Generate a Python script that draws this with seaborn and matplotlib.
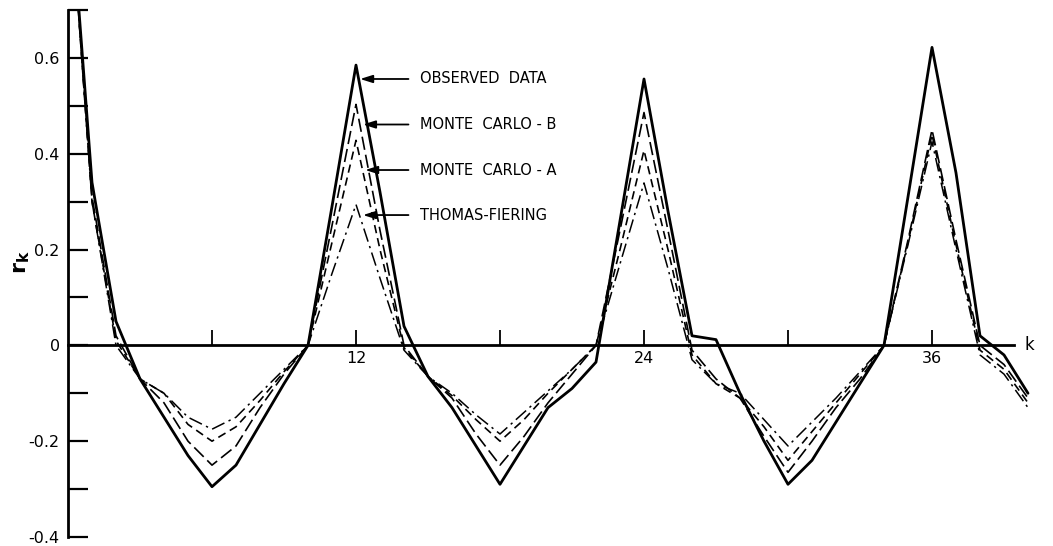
import matplotlib
matplotlib.use("Agg")
import matplotlib.pyplot as plt
import pandas as pd
import seaborn as sns

# Autocorrelation r_k of monthly flows against lag k
lags = list(range(0, 41))

observed = [1.0, 0.34, 0.05, -0.07, -0.15, -0.23, -0.295, -0.25, -0.165, -0.08,
            0.0, 0.29, 0.585, 0.32, 0.04, -0.065, -0.13, -0.21, -0.29, -0.21,
            -0.13, -0.09, -0.035, 0.26, 0.556, 0.28, 0.02, 0.012, -0.10, -0.20,
            -0.29, -0.24, -0.16, -0.08, 0.0, 0.31, 0.622, 0.36, 0.02, -0.02, -0.10]

monte_carlo_b = [1.0, 0.31, 0.02, -0.07, -0.12, -0.20, -0.25, -0.21, -0.13, -0.06,
                 0.0, 0.25, 0.503, 0.24, 0.0, -0.065, -0.11, -0.185, -0.25, -0.19,
                 -0.12, -0.06, 0.0, 0.24, 0.486, 0.24, -0.01, -0.07, -0.11, -0.19,
                 -0.265, -0.20, -0.13, -0.07, 0.0, 0.22, 0.45, 0.22, 0.0, -0.04, -0.11]

monte_carlo_a = [1.0, 0.30, 0.01, -0.07, -0.10, -0.165, -0.20, -0.17, -0.115, -0.055,
                 0.0, 0.215, 0.428, 0.20, -0.005, -0.065, -0.105, -0.155, -0.20, -0.155,
                 -0.10, -0.05, 0.0, 0.20, 0.407, 0.20, -0.02, -0.08, -0.11, -0.17,
                 -0.24, -0.18, -0.12, -0.06, 0.0, 0.215, 0.44, 0.21, -0.01, -0.05, -0.12]

thomas_fiering = [1.0, 0.30, 0.0, -0.07, -0.10, -0.15, -0.175, -0.15, -0.10, -0.05,
                  0.0, 0.15, 0.294, 0.14, -0.01, -0.065, -0.10, -0.145, -0.185, -0.14,
                  -0.095, -0.05, 0.0, 0.17, 0.339, 0.16, -0.03, -0.08, -0.10, -0.155,
                  -0.21, -0.16, -0.11, -0.055, 0.0, 0.21, 0.425, 0.20, -0.02, -0.06, -0.13]

series_names = ["OBSERVED  DATA", "MONTE  CARLO - B", "MONTE  CARLO - A", "THOMAS-FIERING"]
series_values = [observed, monte_carlo_b, monte_carlo_a, thomas_fiering]

y_ticks = [-0.4, -0.2, 0.0, 0.2, 0.4, 0.6]
y_tick_labels = ["-0.4", "-0.2", "0", "0.2", "0.4", "0.6"]
y_minor_ticks = [-0.3, -0.1, 0.1, 0.3, 0.5, 0.7]
x_ticks = [6, 12, 18, 24, 30, 36]
x_tick_labels = ["", "12", "", "24", "", "36"]

# Callout placement (lag, r) for each series label and its arrow tip
label_y = [0.556, 0.461, 0.366, 0.272]
arrow_tip_x = [12.17, 12.29, 12.38, 12.29]
label_x = 14.67

sns.set_style("white")
plt.rcParams["font.family"] = ["DejaVu Sans"]
plt.rcParams["text.color"] = "black"
plt.rcParams["xtick.labelcolor"] = "black"
plt.rcParams["ytick.labelcolor"] = "black"

df = pd.DataFrame({
    "k": lags * len(series_names),
    "r": [v for vals in series_values for v in vals],
    "series": [n for n in series_names for _ in lags],
})

fig = plt.figure(figsize=(10.53, 5.46), dpi=100)
ax = fig.add_axes([68 / 1053, 9 / 546, 984 / 1053, 527 / 546])

palette = {n: "black" for n in series_names}
dashes = {
    series_names[0]: "",
    series_names[1]: (8, 3),
    series_names[2]: (5, 3),
    series_names[3]: (9, 3, 1.5, 3),
}
sizes = {series_names[0]: 2.0, series_names[1]: 1.2,
         series_names[2]: 1.2, series_names[3]: 1.1}

sns.lineplot(data=df, x="k", y="r", hue="series", style="series", size="series",
             palette=palette, dashes=dashes, sizes=sizes, legend=False,
             estimator=None, sort=False, ax=ax)

ax.set_xlim(0, 41)
ax.set_ylim(-0.4, 0.7)
ax.set_xlabel("")
ax.set_ylabel("")

for side in ("top", "right"):
    ax.spines[side].set_visible(False)
ax.spines["left"].set_bounds(-0.4, 0.7)
ax.spines["left"].set_linewidth(2.0)
ax.spines["left"].set_color("black")
ax.spines["bottom"].set_position(("data", 0))
ax.spines["bottom"].set_bounds(0, 39.4)
ax.spines["bottom"].set_linewidth(2.0)
ax.spines["bottom"].set_color("black")

ax.set_yticks(y_ticks)
ax.set_yticklabels(y_tick_labels)
ax.set_yticks(y_minor_ticks, minor=True)
ax.tick_params(axis="y", which="both", direction="in", length=14.5, width=1.6,
               color="black", pad=6, labelsize=11.5, left=True)
ax.set_xticks(x_ticks)
ax.set_xticklabels(x_tick_labels)
ax.tick_params(axis="x", which="major", direction="in", length=11, width=1.3,
               color="black", pad=4, labelsize=11.5, bottom=True)

ax.text(39.85, 0, "k", ha="left", va="center", fontsize=12, color="black")
fig.text(22 / 1053, 1 - 262 / 546, r"$\mathbf{r_k}$", rotation=90,
         ha="center", va="center", fontsize=16, color="black")

for name, ty, tip in zip(series_names, label_y, arrow_tip_x):
    ax.annotate(name, xy=(tip, ty), xytext=(label_x, ty), ha="left", va="center",
                fontsize=10.5, color="black",
                arrowprops=dict(arrowstyle="-|>,head_length=0.7,head_width=0.22",
                                color="black", lw=1.3, shrinkA=6, shrinkB=0))

fig.savefig("out.png", dpi=100, facecolor="white")
